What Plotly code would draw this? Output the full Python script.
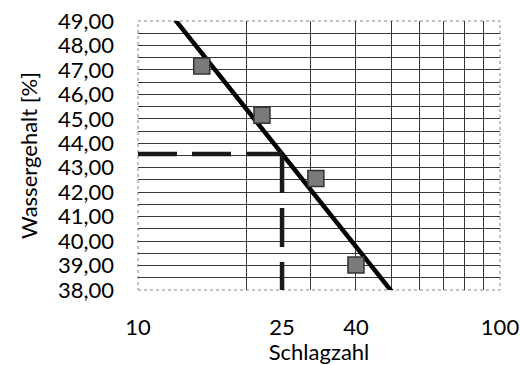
import numpy as np
import plotly.graph_objects as go

# Data
schlagzahl = [15, 22, 31, 40]
wassergehalt = [47.16, 45.15, 42.56, 39.02]
x_tick_vals = [10, 25, 40, 100]
x_tick_text = ["10", "25", "40", "100"]
x_grid_vals = [20, 30, 40, 50, 60, 70, 80, 90]
target_n = 25

# Log-linear regression (trend line) through the measured points
b, a = np.polyfit(np.log10(schlagzahl), wassergehalt, 1)
trend_x = [10, 100]
trend_y = [a + b * np.log10(v) for v in trend_x]
w25 = a + b * np.log10(target_n)

FONT = "Lato"

fig = go.Figure()

fig.add_trace(go.Scatter(
    x=trend_x, y=trend_y, mode="lines",
    line=dict(color="black", width=4.5), showlegend=False, hoverinfo="skip"))

fig.add_trace(go.Scatter(
    x=[10, target_n], y=[w25, w25], mode="lines",
    line=dict(color="#1a1a1a", width=4.5, dash="39px,15px"), showlegend=False))
fig.add_trace(go.Scatter(
    x=[target_n, target_n], y=[w25, 38], mode="lines",
    line=dict(color="#1a1a1a", width=4.5, dash="39px,15px"), showlegend=False))

fig.add_trace(go.Scatter(
    x=schlagzahl, y=wassergehalt, mode="markers",
    marker=dict(symbol="square", size=16, color="#7a7a7a",
                line=dict(color="#333333", width=1.5)),
    showlegend=False))

fig.update_layout(
    width=520, height=365,
    margin=dict(l=138, r=20, t=21, b=75),
    paper_bgcolor="white", plot_bgcolor="white",
    separators=",.",
    font=dict(family=FONT, size=22, color="black"),
    xaxis=dict(
        type="log", range=[1, 2], automargin=False,
        tickmode="array", tickvals=x_tick_vals, ticktext=x_tick_text,
        showgrid=False, zeroline=False, ticks="",
        ticklabelstandoff=22, ticklabeloverflow="allow",
        tickfont=dict(size=22),
        minor=dict(tickvals=x_grid_vals, showgrid=True,
                   gridcolor="#383838", gridwidth=1, ticks=""),
        title=dict(text="Schlagzahl", font=dict(size=22), standoff=1),
        showline=False,
    ),
    yaxis=dict(
        range=[38, 49], dtick=1, tick0=38, tickformat=".2f", automargin=False,
        showgrid=True, gridcolor="#383838", gridwidth=1,
        minor=dict(dtick=0.5, showgrid=True, gridcolor="#383838", gridwidth=1),
        zeroline=False, ticks="",
        ticklabelstandoff=23, ticklabeloverflow="allow",
        tickfont=dict(size=22),
        title=dict(text="Wassergehalt [%]", font=dict(size=22), standoff=14),
        showline=False,
    ),
    shapes=[dict(type="rect", xref="paper", yref="paper", x0=0, y0=0, x1=1, y1=1,
                 line=dict(color="#888888", width=1, dash="dot"), layer="below")],
)

fig.write_html(
    "out.html",
    config={"displayModeBar": False},
    post_script="document.body.style.margin='0';document.body.style.overflow='hidden';",
)
